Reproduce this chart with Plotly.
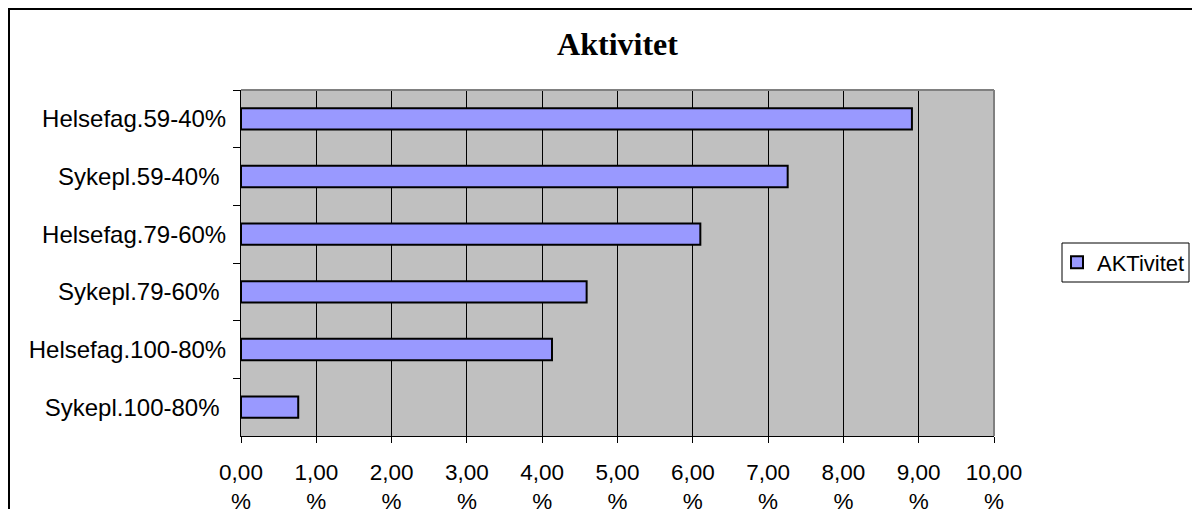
import plotly.graph_objects as go

categories = ["Helsefag.59-40%", "Sykepl.59-40%\u00a0", "Helsefag.79-60%", "Sykepl.79-60%\u00a0",
              "Helsefag.100-80%", "Sykepl.100-80%\u00a0"]
values = [8.91, 7.26, 6.10, 4.59, 4.13, 0.76]
tick_vals = [0, 1, 2, 3, 4, 5, 6, 7, 8, 9, 10]
tick_text = ["0,00<br>%", "1,00<br>%", "2,00<br>%", "3,00<br>%", "4,00<br>%", "5,00<br>%",
             "6,00<br>%", "7,00<br>%", "8,00<br>%", "9,00<br>%", "10,00<br>%"]
series_name = "AKTivitet"
title = "Aktivitet"

W, H = 1192, 509
L, R, T, B = 241, 994, 90, 436
pw = R - L
ph = B - T


def px(x):
    return (x - L) / pw


def py(y):
    return (B - y) / ph


fig = go.Figure()
fig.add_trace(go.Bar(
    x=values, y=categories, orientation="h", name=series_name,
    marker=dict(color="#9999FF", line=dict(color="black", width=2)),
    showlegend=True,
))

fig.update_layout(
    width=W, height=H,
    margin=dict(l=L, r=W - R, t=T, b=H - B, pad=0, autoexpand=False),
    paper_bgcolor="white", plot_bgcolor="#C0C0C0",
    bargap=0.63,
    font=dict(family="Arial, Liberation Sans, sans-serif", color="black"),
    title=dict(text="<b>" + title + "</b>", x=0.5, xref="paper", xanchor="center",
               y=1 - 44 / H, yanchor="middle",
               font=dict(family="Times New Roman, Liberation Serif, serif", size=32, color="black")),
    xaxis=dict(range=[0, 10], tickvals=tick_vals, ticktext=tick_text,
               showgrid=True, gridcolor="black", gridwidth=1,
               showline=True, linecolor="black", linewidth=1,
               ticks="outside", ticklen=6, tickcolor="black",
               tickfont=dict(size=22.5), zeroline=False, fixedrange=True,
               ticklabelstandoff=10, automargin=False),
    yaxis=dict(autorange="reversed", type="category",
               showline=True, linecolor="black", linewidth=1,
               ticks="outside", ticklen=7, tickcolor="black", tickson="boundaries",
               tickfont=dict(size=24), showgrid=False, fixedrange=True,
               ticklabelstandoff=9, automargin=False),
    legend=dict(xref="container", yref="container",
                x=1057 / W, y=1 - 262.5 / H, xanchor="left", yanchor="middle",
                borderwidth=0, bgcolor="rgba(0,0,0,0)",
                font=dict(size=22), itemwidth=30, tracegroupgap=0),
    shapes=[
        # plot area border (gray) top & right
        dict(type="line", xref="paper", yref="paper", x0=0, x1=1, y0=1, y1=1,
             line=dict(color="#808080", width=2)),
        dict(type="line", xref="paper", yref="paper", x0=1, x1=1, y0=0, y1=1,
             line=dict(color="#808080", width=2)),
        # legend box
        dict(type="rect", xref="paper", yref="paper",
             x0=px(1062), x1=px(1189), y0=py(282), y1=py(243),
             line=dict(color="black", width=1), fillcolor="rgba(0,0,0,0)"),
        # outer chart border
        dict(type="rect", xref="paper", yref="paper",
             x0=px(9), x1=px(W + 20), y0=py(H + 20), y1=py(9),
             line=dict(color="black", width=2), fillcolor="rgba(0,0,0,0)", layer="above"),
    ],
)

fig.write_html("out.html", config={"displayModeBar": False},
               post_script="document.body.style.margin='0';")
